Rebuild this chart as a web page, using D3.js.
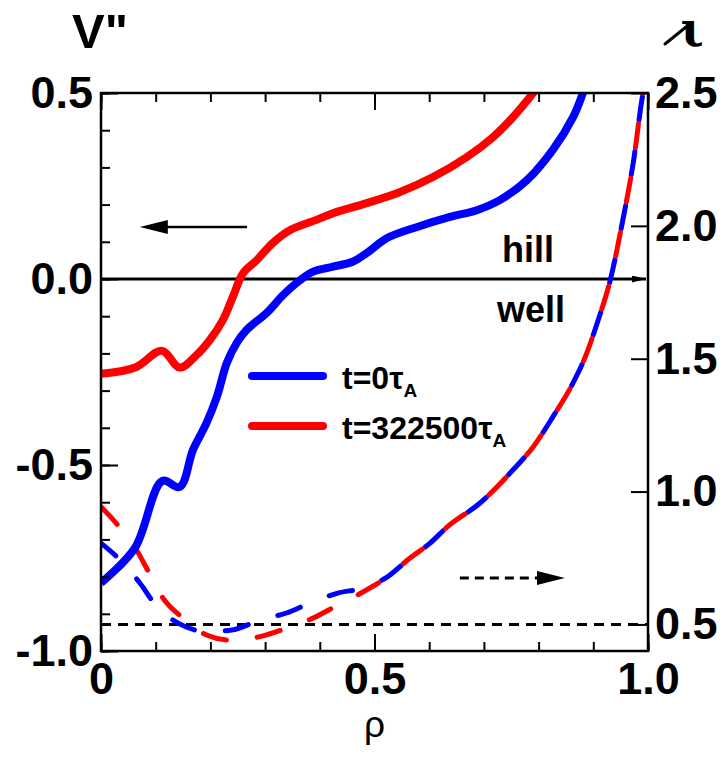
<!DOCTYPE html>
<html>
<head>
<meta charset="utf-8">
<script src="https://cdn.jsdelivr.net/npm/d3@7"></script>
<style>
  body { margin: 0; background: #fff; }
  svg text { font-family: 'Liberation Sans', Arial, Helvetica, sans-serif; font-weight: bold; fill: #000; }
</style>
</head>
<body>
<div id="chart"></div>
<script>
// V'' profiles, left axis
const rhoVT0 = [0, 0.062, 0.112, 0.144, 0.168, 0.193, 0.212, 0.230, 0.248, 0.266, 0.303, 0.333, 0.364, 0.388, 0.424, 0.461, 0.486, 0.523, 0.578, 0.638, 0.687, 0.729, 0.779, 0.826, 0.863, 0.881, 0.895]
const vppT0 = [-0.817, -0.723, -0.543, -0.559, -0.460, -0.387, -0.316, -0.226, -0.172, -0.137, -0.091, -0.043, -0.003, 0.020, 0.033, 0.047, 0.070, 0.110, 0.140, 0.167, 0.185, 0.212, 0.266, 0.347, 0.435, 0.5, 0.56]
const rhoVT1 = [0, 0.064, 0.111, 0.144, 0.175, 0.199, 0.223, 0.241, 0.260, 0.285, 0.314, 0.346, 0.394, 0.424, 0.486, 0.547, 0.607, 0.669, 0.717, 0.753, 0.790, 0.805]
const vppT1 = [-0.255, -0.237, -0.193, -0.238, -0.204, -0.164, -0.110, -0.048, 0.016, 0.051, 0.097, 0.132, 0.159, 0.177, 0.204, 0.234, 0.274, 0.328, 0.382, 0.435, 0.5, 0.53]

// rotational transform, right axis
const rhoIT0 = [0, 0.035, 0.071, 0.104, 0.141, 0.193, 0.239, 0.291, 0.339, 0.386, 0.433, 0.479, 0.523, 0.565, 0.601, 0.633, 0.693, 0.753, 0.790, 0.826, 0.863, 0.888, 0.909, 0.931, 0.954, 0.973, 0.991, 1.0]
const iotaT0 = [0.806, 0.742, 0.656, 0.562, 0.505, 0.473, 0.479, 0.517, 0.543, 0.584, 0.618, 0.637, 0.678, 0.750, 0.805, 0.867, 0.957, 1.081, 1.168, 1.281, 1.409, 1.521, 1.646, 1.796, 2.022, 2.237, 2.5, 2.58]
const rhoIT1 = [0, 0.035, 0.065, 0.090, 0.113, 0.150, 0.193, 0.236, 0.291, 0.339, 0.388, 0.433, 0.479, 0.523, 0.565, 0.601, 0.633, 0.693, 0.753, 0.790, 0.826, 0.863, 0.888, 0.909, 0.931, 0.954, 0.973, 0.991, 1.0]
const iotaT1 = [0.943, 0.863, 0.780, 0.686, 0.600, 0.524, 0.460, 0.441, 0.454, 0.486, 0.524, 0.573, 0.622, 0.678, 0.750, 0.805, 0.867, 0.957, 1.081, 1.168, 1.281, 1.409, 1.521, 1.646, 1.796, 2.022, 2.237, 2.5, 2.58]

const xMinorTicks = [0, 0.1, 0.2, 0.3, 0.4, 0.5, 0.6, 0.7, 0.8, 0.9, 1.0]
const xMajorTicks = [0, 0.5, 1.0]
const xTickLabels = ['0', '0.5', '1.0']
const leftMinorTicks = [-1.0, -0.9, -0.8, -0.7, -0.6, -0.5, -0.4, -0.3, -0.2, -0.1, 0, 0.1, 0.2, 0.3, 0.4, 0.5]
const leftMajorTicks = [-1.0, -0.5, 0, 0.5]
const leftTickLabels = ['-1.0', '-0.5', '0.0', '0.5']
const rightMajorTicks = [0.5, 1.0, 1.5, 2.0, 2.5]
const rightTickLabels = ['0.5', '1.0', '1.5', '2.0', '2.5']
const legendLabels = ['t=0', 't=322500']
const colors = ['#0000ff', '#ff0000']

const width = 725
const height = 767
const margin = { top: 93, right: 77, bottom: 116, left: 101 }
const fontSize = 45

const x = d3.scaleLinear().domain([0, 1]).range([margin.left, width - margin.right])
const yL = d3.scaleLinear().domain([-1, 0.5]).range([height - margin.bottom, margin.top])
const yR = d3.scaleLinear().domain([0.4, 2.5]).range([height - margin.bottom, margin.top])

const svg = d3.select('#chart')
  .append('svg')
  .attr('width', width)
  .attr('height', height)

const defs = svg.append('defs')
defs.append('clipPath')
  .attr('id', 'plot-clip')
  .append('rect')
  .attr('x', margin.left)
  .attr('y', margin.top)
  .attr('width', width - margin.left - margin.right)
  .attr('height', height - margin.top - margin.bottom)

// big arrow head: tip sits 20px past the end of its line
defs.append('marker')
  .attr('id', 'head-big')
  .attr('markerUnits', 'userSpaceOnUse')
  .attr('markerWidth', 30)
  .attr('markerHeight', 16)
  .attr('refX', 8)
  .attr('refY', 7)
  .attr('orient', 'auto')
  .append('path')
  .attr('d', 'M0,0L28,7L0,14Z')
  .attr('fill', '#000')

defs.append('marker')
  .attr('id', 'head-small')
  .attr('markerUnits', 'userSpaceOnUse')
  .attr('markerWidth', 16)
  .attr('markerHeight', 8)
  .attr('refX', 14)
  .attr('refY', 3.5)
  .attr('orient', 'auto')
  .append('path')
  .attr('d', 'M0,0L14,3.5L0,7Z')
  .attr('fill', '#000')

const plot = svg.append('g').attr('clip-path', 'url(#plot-clip)')

// V''=0 line and iota=0.5 line
plot.append('line')
  .attr('x1', x(0))
  .attr('x2', x(1) - 2)
  .attr('y1', yL(0))
  .attr('y2', yL(0))
  .attr('stroke', '#000')
  .attr('stroke-width', 3)
  .attr('marker-end', 'url(#head-small)')

plot.append('line')
  .attr('x1', x(0))
  .attr('x2', x(1))
  .attr('y1', yR(0.5))
  .attr('y2', yR(0.5))
  .attr('stroke', '#000')
  .attr('stroke-width', 3)
  .attr('stroke-dasharray', '10,7')

const lineV = d3.line()
  .x(d => x(d[0]))
  .y(d => yL(d[1]))
  .curve(d3.curveCatmullRom.alpha(0.5))
const lineI = d3.line()
  .x(d => x(d[0]))
  .y(d => yR(d[1]))
  .curve(d3.curveMonotoneX)

const iotaSeries = [d3.zip(rhoIT0, iotaT0), d3.zip(rhoIT1, iotaT1)]
const vppSeries = [d3.zip(rhoVT0, vppT0), d3.zip(rhoVT1, vppT1)]

const dashed = plot.selectAll('path.iota')
  .data(iotaSeries)
  .join('path')
  .classed('iota', true)
  .attr('d', lineI)
  .attr('fill', 'none')
  .attr('stroke', (d, i) => colors[i])
  .attr('stroke-width', 5)
  .attr('stroke-linecap', 'round')
  .attr('stroke-linejoin', 'round')
  .attr('stroke-dasharray', '24,31')

// shift the blue dashes so they fall in the red gaps where the curves coincide
const lens = dashed.nodes().map(n => n.getTotalLength())
dashed.filter((d, i) => i === 0)
  .attr('stroke-dashoffset', -(lens[0] - lens[1]) - 27.5)

plot.selectAll('path.vpp')
  .data(vppSeries)
  .join('path')
  .classed('vpp', true)
  .attr('d', lineV)
  .attr('fill', 'none')
  .attr('stroke', (d, i) => colors[i])
  .attr('stroke-width', 8)
  .attr('stroke-linejoin', 'round')

// frame
svg.append('rect')
  .attr('x', margin.left)
  .attr('y', margin.top)
  .attr('width', width - margin.left - margin.right)
  .attr('height', height - margin.top - margin.bottom)
  .attr('fill', 'none')
  .attr('stroke', '#000')
  .attr('stroke-width', 2.5)

function styleAxis(g) {
  g.select('.domain').remove()
  g.attr('color', '#000')
  g.selectAll('.tick line').attr('stroke-width', 2)
  g.selectAll('text')
    .style('font-size', fontSize + 'px')
    .style('font-weight', 'bold')
}

const bottomY = height - margin.bottom
const rightX = width - margin.right

svg.append('g')
  .attr('transform', `translate(0,${bottomY})`)
  .call(d3.axisBottom(x).tickValues(xMinorTicks).tickSizeInner(-9).tickSizeOuter(0).tickFormat(''))
  .call(styleAxis)
svg.append('g')
  .attr('transform', `translate(0,${bottomY})`)
  .call(d3.axisBottom(x).tickValues(xMajorTicks).tickSizeInner(-17).tickSizeOuter(0).tickPadding(11)
    .tickFormat((d, i) => xTickLabels[i]))
  .call(styleAxis)

svg.append('g')
  .attr('transform', `translate(0,${margin.top})`)
  .call(d3.axisTop(x).tickValues(xMinorTicks).tickSizeInner(-9).tickSizeOuter(0).tickFormat(''))
  .call(styleAxis)
svg.append('g')
  .attr('transform', `translate(0,${margin.top})`)
  .call(d3.axisTop(x).tickValues(xMajorTicks).tickSizeInner(-17).tickSizeOuter(0).tickFormat(''))
  .call(styleAxis)

svg.append('g')
  .attr('transform', `translate(${margin.left},0)`)
  .call(d3.axisLeft(yL).tickValues(leftMinorTicks).tickSizeInner(-9).tickSizeOuter(0).tickFormat(''))
  .call(styleAxis)
svg.append('g')
  .attr('transform', `translate(${margin.left},0)`)
  .call(d3.axisLeft(yL).tickValues(leftMajorTicks).tickSizeInner(-17).tickSizeOuter(0).tickPadding(8)
    .tickFormat((d, i) => leftTickLabels[i]))
  .call(styleAxis)

svg.append('g')
  .attr('transform', `translate(${rightX},0)`)
  .call(d3.axisRight(yR).tickValues(rightMajorTicks).tickSizeInner(-17).tickSizeOuter(0).tickPadding(7)
    .tickFormat((d, i) => rightTickLabels[i]))
  .call(styleAxis)

// axis titles
svg.append('text')
  .attr('x', 100)
  .attr('y', 48)
  .attr('text-anchor', 'middle')
  .style('font-size', '49px')
  .text('V"')

svg.append('text')
  .attr('x', 692)
  .attr('y', 46)
  .attr('text-anchor', 'middle')
  .style('font-family', "'DejaVu Serif', serif")
  .style('font-size', '48px')
  .text('ι')
svg.append('line')
  .attr('x1', 665)
  .attr('y1', 44)
  .attr('x2', 686)
  .attr('y2', 27)
  .attr('stroke', '#000')
  .attr('stroke-width', 3)
  .attr('stroke-linecap', 'round')

svg.append('text')
  .attr('x', x(0.5))
  .attr('y', 737)
  .attr('text-anchor', 'middle')
  .style('font-weight', 'normal')
  .style('font-size', '37px')
  .text('ρ')

// direction arrows
svg.append('line')
  .attr('x1', x(0.267))
  .attr('x2', x(0.071) + 20)
  .attr('y1', yL(0.14))
  .attr('y2', yL(0.14))
  .attr('stroke', '#000')
  .attr('stroke-width', 2.5)
  .attr('marker-end', 'url(#head-big)')
svg.append('line')
  .attr('x1', x(0.656))
  .attr('x2', x(0.848) - 20)
  .attr('y1', yR(0.675))
  .attr('y2', yR(0.675))
  .attr('stroke', '#000')
  .attr('stroke-width', 3)
  .attr('stroke-dasharray', '9,6')
  .attr('marker-end', 'url(#head-big)')

// hill / well
svg.append('text')
  .attr('x', 528)
  .attr('y', 262)
  .attr('text-anchor', 'middle')
  .style('font-size', '36px')
  .text('hill')
svg.append('text')
  .attr('x', 531)
  .attr('y', 322)
  .attr('text-anchor', 'middle')
  .style('font-size', '36px')
  .text('well')

// legend
const legend = svg.append('g')
  .selectAll('g')
  .data(legendLabels)
  .join('g')
  .attr('transform', (d, i) => `translate(0,${376 + i * 50})`)

legend.append('line')
  .attr('x1', 252)
  .attr('x2', 323)
  .attr('stroke', (d, i) => colors[i])
  .attr('stroke-width', 8)
  .attr('stroke-linecap', 'round')

const legendText = legend.append('text')
  .attr('x', 342)
  .attr('y', 13)
  .style('font-size', '32px')
legendText.append('tspan').text(d => d)
legendText.append('tspan').text('τ')
legendText.append('tspan')
  .attr('dy', 8)
  .style('font-size', '19px')
  .text('A')
</script>
</body>
</html>
